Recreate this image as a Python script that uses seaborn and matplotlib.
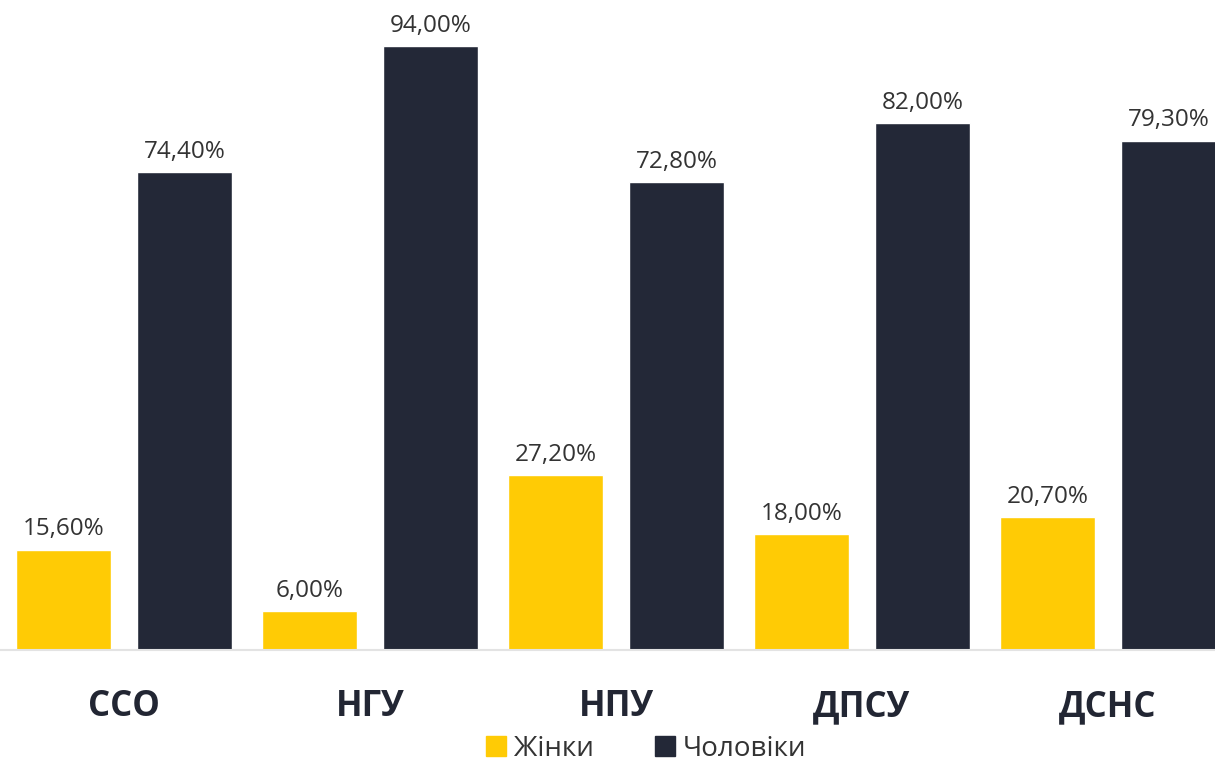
import pandas as pd
import matplotlib.pyplot as plt
import seaborn as sns
from matplotlib.patches import Patch

# дані з діаграми
categories = ["ССО", "НГУ", "НПУ", "ДПСУ", "ДСНС"]
women = [15.6, 6.0, 27.2, 18.0, 20.7]
men = [74.4, 94.0, 72.8, 82.0, 79.3]
series_names = ["Жінки", "Чоловіки"]

YELLOW = "#FFCB05"
DARK = "#232837"

df = pd.DataFrame({
    "group": categories * 2,
    "share": women + men,
    "sex": [series_names[0]] * len(categories) + [series_names[1]] * len(categories),
})

sns.set_theme(style="white")
plt.rcParams["font.family"] = ["Open Sans", "Noto Sans", "DejaVu Sans"]

fig = plt.figure(figsize=(12.15, 7.67), dpi=100)
ax = fig.add_axes([0.0, 0.1525, 1.0, 0.8475])

sns.barplot(data=df, x="group", y="share", hue="sex", order=categories,
            hue_order=series_names, palette=[YELLOW, DARK],
            width=0.984, gap=0.215, saturation=1, legend=False, ax=ax)

for cont in ax.containers:
    ax.bar_label(cont, labels=[f"{v:.2f}%".replace(".", ",") for v in cont.datavalues],
                 padding=6, fontsize=17.5, color="#333333")

ax.set_xlim(-0.504, 4.435)
ax.set_ylim(0, 101.2)
ax.set_xlabel("")
ax.set_ylabel("")
ax.set_yticks([])
ax.set_xticks(range(len(categories)), categories, fontweight="bold",
              fontsize=25, color="#222633")
ax.tick_params(axis="x", length=0, pad=28)

for side in ["top", "left", "right"]:
    ax.spines[side].set_visible(False)
ax.spines["bottom"].set_color("#e3e3e3")
ax.spines["bottom"].set_linewidth(1.5)

handles = [Patch(color=YELLOW, label=series_names[0]),
           Patch(color=DARK, label=series_names[1])]
fig.legend(handles=handles, loc="center", bbox_to_anchor=(0.532, 0.024), ncol=2,
           frameon=False, fontsize=20, handlelength=0.7, handleheight=0.7,
           handletextpad=0.3, columnspacing=2.2, labelcolor="#333333")

fig.savefig("out.png", dpi=100)
